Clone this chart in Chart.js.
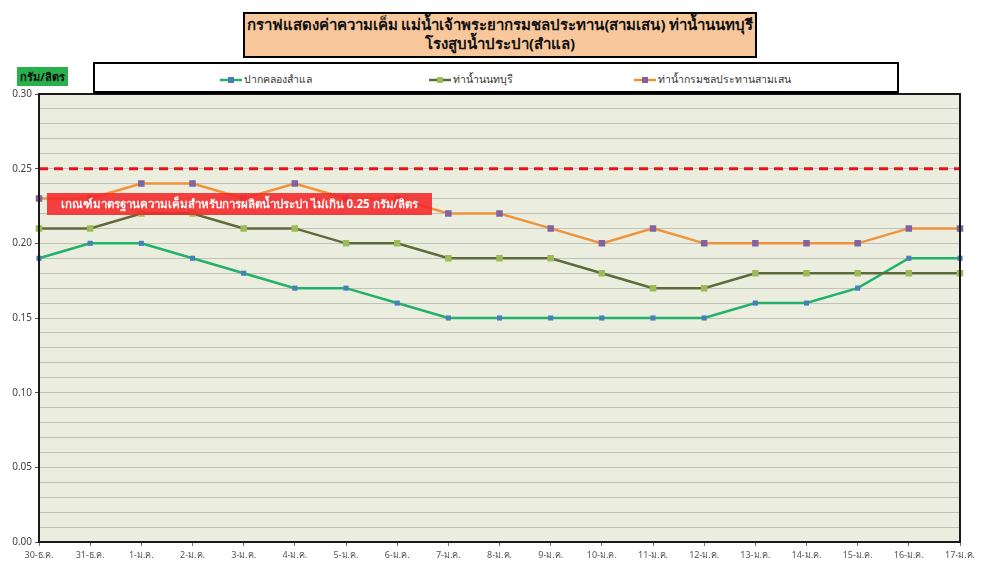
<!DOCTYPE html>
<html>
<head>
<meta charset="utf-8">
<script src="https://cdn.jsdelivr.net/npm/chart.js@4"></script>
<style>
  body { margin: 0; background: #fff; font-family: Tahoma, "Noto Sans", "DejaVu Sans", sans-serif; }
  #wrap { position: relative; width: 984px; height: 570px; }
  #title {
    position: absolute; left: 243px; top: 12px; width: 510px; height: 41px;
    background: #f8c89c; border: 2px solid #000; text-align: center;
    font-weight: bold; font-size: 15px; line-height: 19px; color: #111; padding-top: 1px;
  }
  #unit {
    position: absolute; left: 17px; top: 67px; width: 51px; height: 19px;
    background: #27b04c; color: #111; font-weight: bold; font-size: 11px;
    text-align: center; line-height: 19px;
  }
  #legend {
    position: absolute; left: 93px; top: 62px; width: 802px; height: 27px;
    background: #fff; border: 2px solid #000; border-bottom-width: 3px;
  }
  .item { position: absolute; top: 7px; font-size: 10.5px; color: #333; white-space: nowrap; }
  .item canvas { vertical-align: middle; margin-right: 2px; }
  #note {
    position: absolute; left: 47px; top: 193px; width: 385px; height: 22px;
    background: rgba(244, 40, 40, 0.88); color: #fff; font-weight: bold; font-size: 11.5px;
    text-align: center; line-height: 22px;
  }
</style>
</head>
<body>
<div id="wrap">
  <canvas id="myChart" width="984" height="570"></canvas>
  <div id="title">กราฟแสดงค่าความเค็ม แม่น้ำเจ้าพระยากรมชลประทาน(สามเสน) ท่าน้ำนนทบุรี<br>โรงสูบน้ำประปา(สำแล)</div>
  <div id="unit">กรัม/ลิตร</div>
  <div id="legend"></div>
  <div id="note">เกณฑ์มาตรฐานความเค็มสำหรับการผลิตน้ำประปา ไม่เกิน 0.25 กรัม/ลิตร</div>
</div>
<script>
const labels = ['30-ธ.ค.', '31-ธ.ค.', '1-ม.ค.', '2-ม.ค.', '3-ม.ค.', '4-ม.ค.', '5-ม.ค.', '6-ม.ค.', '7-ม.ค.', '8-ม.ค.',
  '9-ม.ค.', '10-ม.ค.', '11-ม.ค.', '12-ม.ค.', '13-ม.ค.', '14-ม.ค.', '15-ม.ค.', '16-ม.ค.', '17-ม.ค.'];

const samlae = [0.19, 0.20, 0.20, 0.19, 0.18, 0.17, 0.17, 0.16, 0.15, 0.15, 0.15, 0.15, 0.15, 0.15, 0.16, 0.16, 0.17, 0.19, 0.19];
const nonthaburi = [0.21, 0.21, 0.22, 0.22, 0.21, 0.21, 0.20, 0.20, 0.19, 0.19, 0.19, 0.18, 0.17, 0.17, 0.18, 0.18, 0.18, 0.18, 0.18];
const samsen = [0.23, 0.23, 0.24, 0.24, 0.23, 0.24, 0.23, 0.23, 0.22, 0.22, 0.21, 0.20, 0.21, 0.20, 0.20, 0.20, 0.20, 0.21, 0.21];

const limit = 0.25;

const seriesNames = ['ปากคลองสำแล', 'ท่าน้ำนนทบุรี', 'ท่าน้ำกรมชลประทานสามเสน'];

Chart.defaults.font.family = 'Tahoma, "Noto Sans", "DejaVu Sans", sans-serif';

const series = [
  { data: samlae, line: '#20b16b', mark: '#4a7ebb', r: 3.6 },
  { data: nonthaburi, line: '#5d6b3a', mark: '#9bbb59', r: 4.6 },
  { data: samsen, line: '#f0923a', mark: '#8064a2', r: 4.6 }
];

const datasets = series.map((s, i) => ({
  label: seriesNames[i],
  data: s.data,
  borderColor: s.line,
  borderWidth: 2.5,
  pointStyle: 'rect',
  pointRadius: s.r,
  pointBackgroundColor: s.mark,
  pointBorderColor: s.mark,
  pointBorderWidth: 0,
  tension: 0,
  order: 3 - i
}));

// red dashed limit line
datasets.push({
  label: 'limit',
  data: labels.map(() => limit),
  borderColor: '#e3161b',
  borderWidth: 3,
  borderDash: [9, 6],
  pointRadius: 0,
  order: 0
});

// legend
const legend = document.getElementById('legend');
const legendX = [125, 334, 539];
series.forEach((s, i) => {
  const item = document.createElement('div');
  item.className = 'item';
  item.style.left = legendX[i] + 'px';
  const c = document.createElement('canvas');
  c.width = 22; c.height = 10;
  const g = c.getContext('2d');
  g.strokeStyle = s.line; g.lineWidth = 2.5;
  g.beginPath(); g.moveTo(0, 5); g.lineTo(22, 5); g.stroke();
  g.fillStyle = s.mark; g.fillRect(8, 2, 6, 6);
  item.appendChild(c);
  item.appendChild(document.createTextNode(seriesNames[i]));
  legend.appendChild(item);
});

const plotBg = {
  id: 'plotBg',
  beforeDraw(chart) {
    const { ctx, chartArea: a } = chart;
    ctx.save();
    ctx.fillStyle = '#ebeedf';
    ctx.fillRect(a.left, a.top, a.right - a.left, a.bottom - a.top);
    ctx.restore();
  },
  afterDraw(chart) {
    const { ctx, chartArea: a } = chart;
    ctx.save();
    ctx.strokeStyle = '#1a1a1a';
    ctx.lineWidth = 2;
    ctx.strokeRect(a.left, a.top, a.right - a.left, a.bottom - a.top);
    ctx.restore();
  }
};

const ctx = document.getElementById('myChart');

new Chart(ctx, {
  type: 'line',
  data: { labels: labels, datasets: datasets },
  options: {
    responsive: false,
    animation: false,
    layout: { padding: { top: 94, right: 24, left: 0, bottom: 0 } },
    plugins: { legend: { display: false }, tooltip: { enabled: false } },
    scales: {
      y: {
        min: 0,
        max: 0.3,
        afterFit: (scale) => { scale.width = 39; },
        ticks: {
          stepSize: 0.01,
          autoSkip: false,
          color: '#444',
          font: { size: 10 },
          padding: 3,
          callback: (v) => Math.round(v * 100) % 5 === 0 ? v.toFixed(2) : ''
        },
        grid: {
          color: '#c0c2b8',
          lineWidth: 1,
          tickLength: 4,
          tickColor: (c) => Math.round(c.tick.value * 100) % 5 === 0 ? '#555' : 'rgba(0,0,0,0)'
        },
        border: { color: '#1a1a1a', width: 2 }
      },
      x: {
        offset: false,
        afterFit: (scale) => { scale.height = 28; },
        ticks: { color: '#555', font: { size: 9 }, maxRotation: 0, autoSkip: false, padding: 4 },
        grid: { drawOnChartArea: false, drawTicks: true, tickLength: 4, color: '#777' },
        border: { color: '#1a1a1a', width: 2 }
      }
    }
  },
  plugins: [plotBg]
});
</script>
</body>
</html>
